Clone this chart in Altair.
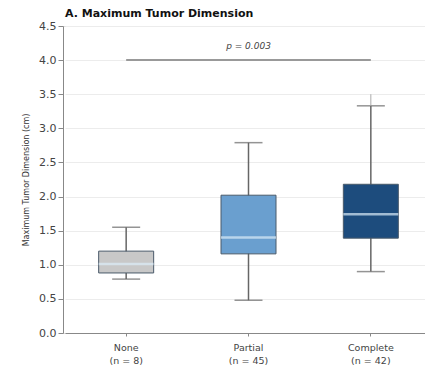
import altair as alt
import pandas as pd

groups = ["None", "Partial", "Complete"]
labels = [["None", "(n = 8)"], ["Partial", "(n = 45)"], ["Complete", "(n = 42)"]]
q1 = [0.88, 1.16, 1.39]
median = [1.01, 1.40, 1.74]
q3 = [1.20, 2.02, 2.18]
wlow = [0.79, 0.48, 0.90]
whigh = [1.55, 2.79, 3.33]
fills = ["#c8c8c8", "#6a9fcf", "#1d4c7d"]
outlier_group = ["Complete"]
outlier_val = [3.50]
y_ticks = [0.0, 0.5, 1.0, 1.5, 2.0, 2.5, 3.0, 3.5, 4.0, 4.5]
p_text = "p = 0.003"
p_y = 4.0

df = pd.DataFrame({"g": groups, "q1": q1, "med": median, "q3": q3,
                   "lo": wlow, "hi": whigh, "fill": fills})
out = pd.DataFrame({"g": outlier_group, "v": outlier_val, "c": [3.33]})
sig = pd.DataFrame({"a": ["None"], "b": ["Complete"], "y": [p_y],
                    "t": [p_text], "m": ["Partial"], "ty": [4.2]})

lab_expr = ("datum.value == 'None' ? ['None','(n = 8)'] : "
            "datum.value == 'Partial' ? ['Partial','(n = 45)'] : ['Complete','(n = 42)']")

xs = alt.Scale(domain=groups, paddingInner=0.5, paddingOuter=0.25, range=[2, 369])
xaxis = alt.Axis(title=None, labelAngle=0, labelExpr=lab_expr, labelFontSize=9.5,
                 labelColor="#444", labelPadding=6, tickSize=3, tickColor="#888",
                 domainColor="#888", grid=False, labelLineHeight=13)
ys = alt.Scale(domain=[0, 4.5], nice=False, zero=True)
yaxis = alt.Axis(title="Maximum Tumor Dimension (cm)", titleFontSize=8, titleFontWeight="normal",
                 titleColor="#333", values=y_ticks, tickCount=10,
                 format=".1f", labelFontSize=11, labelColor="#444", tickColor="#888",
                 labelOverlap=False, labelFlush=False,
                 domainColor="#888", gridColor="#ececec", titlePadding=8)


def X(f):
    return alt.X(f, sort=groups, scale=xs, axis=xaxis)


def Y(f):
    return alt.Y(f, scale=ys, axis=yaxis)


base = alt.Chart(df)
whisk = base.mark_rule(color="#666", strokeWidth=1.5).encode(x=X("g:N"), y=Y("lo:Q"), y2="hi:Q")
caps_lo = base.mark_tick(color="#666", size=28, thickness=1.5, orient="horizontal").encode(x=X("g:N"), y=Y("lo:Q"))
caps_hi = base.mark_tick(color="#666", size=28, thickness=1.5, orient="horizontal").encode(x=X("g:N"), y=Y("hi:Q"))
box = base.mark_bar(size=55, stroke="#4a5a6a", strokeWidth=1).encode(
    x=X("g:N"), y=Y("q1:Q"), y2="q3:Q", fill=alt.Fill("fill:N", scale=None))
med = base.mark_tick(color="#dcecf8", size=55, thickness=2.5, orient="horizontal").encode(x=X("g:N"), y=Y("med:Q"))
outl = alt.Chart(out).mark_rule(color="#aaa", strokeWidth=1).encode(
    x=X("g:N"), y=Y("v:Q"), y2="c:Q")
sig_line = alt.Chart(sig).mark_rule(color="#999", strokeWidth=2).encode(x=X("a:N"), x2="b:N", y=Y("y:Q"))
sig_txt = alt.Chart(sig).mark_text(fontStyle="italic", fontSize=9, color="#444", font="DejaVu Sans").encode(
    x=X("m:N"), y=Y("ty:Q"), text="t:N")

chart = alt.layer(whisk, caps_lo, caps_hi, box, med, outl, sig_line, sig_txt).properties(
    width=362, height=307,
    title=alt.TitleParams("A. Maximum Tumor Dimension", anchor="start", frame="group", fontSize=11,
                          fontWeight="bold", color="#111", offset=1, font="DejaVu Sans", dx=2),
    autosize=alt.AutoSizeParams(type="none"),
    padding={"left": 55, "top": 18, "right": 0, "bottom": 35},
).configure_view(stroke=None).configure(font="DejaVu Sans")

chart.save("out.html", embed_options={"renderer": "svg", "actions": False})
